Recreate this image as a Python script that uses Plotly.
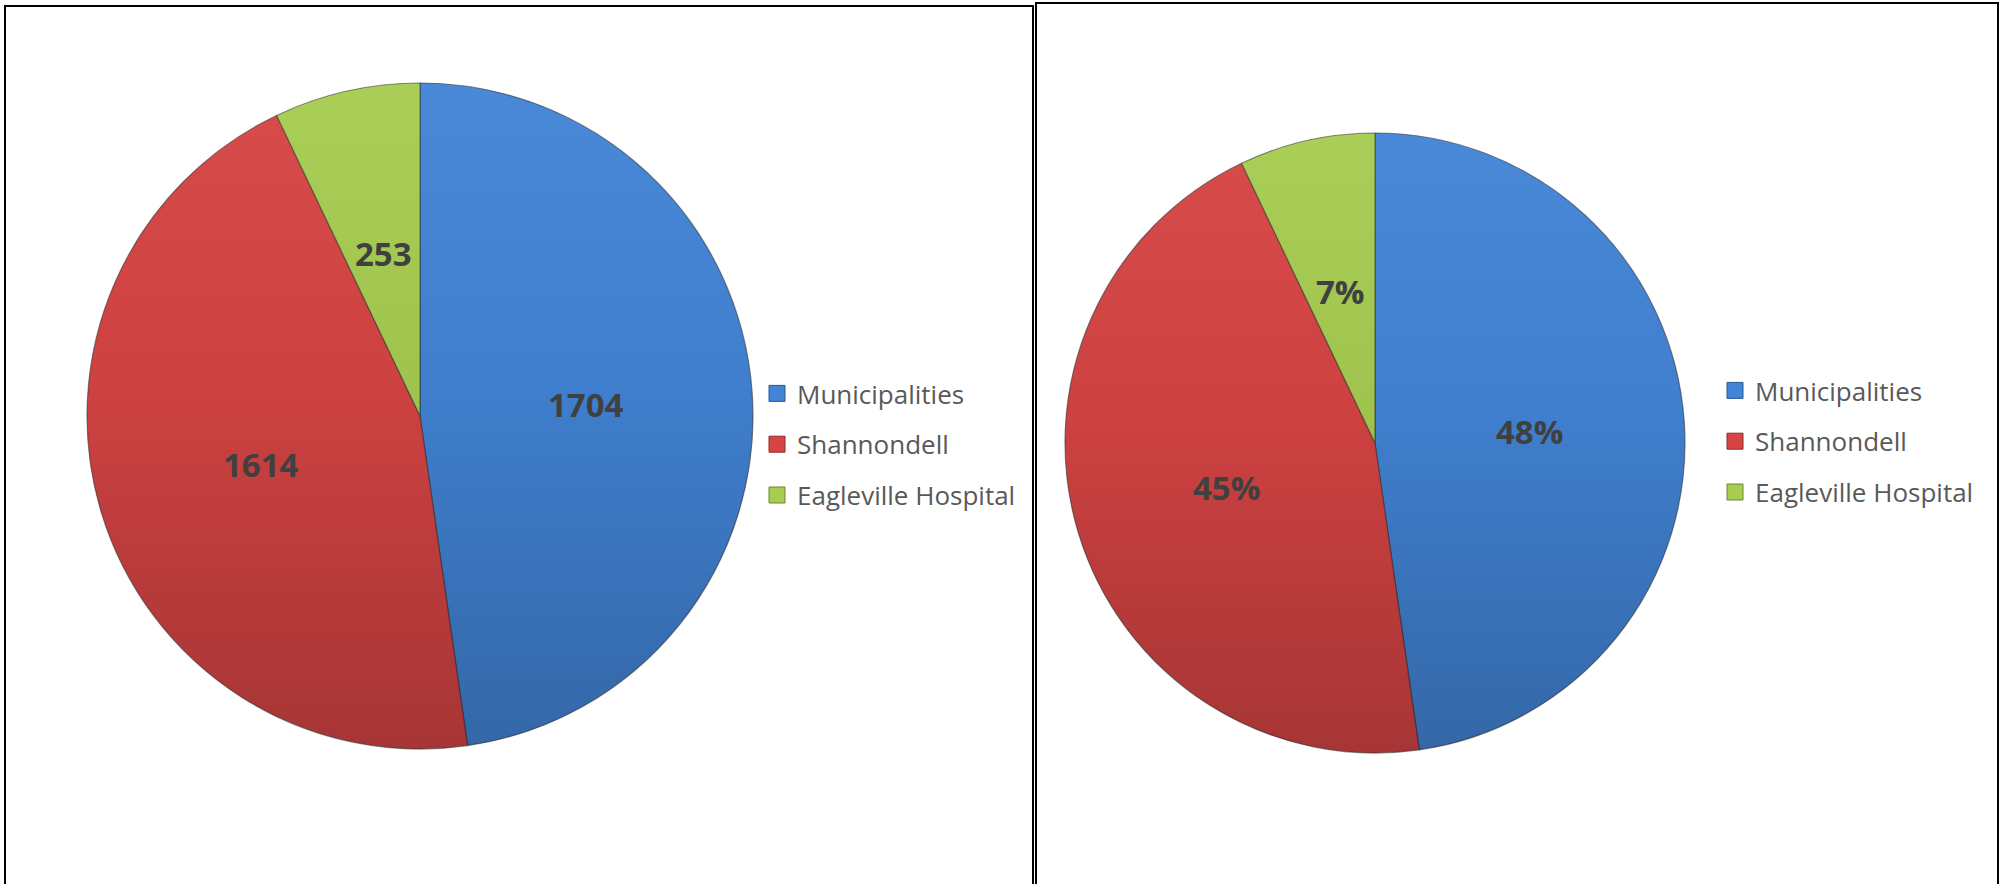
import math
import urllib.parse
import plotly.graph_objects as go

# ---------------- data ----------------
categories = ["Municipalities", "Shannondell", "Eagleville Hospital"]
counts = [1704, 1614, 253]

colors = ["#4284D6", "#D64444", "#A6CC50"]
edge_colors = ["#2A5894", "#8C2A29", "#6B8830"]

W, H = 2005, 884
total = sum(counts)
count_labels = [str(v) for v in counts]
pct_labels = [f"{round(100 * v / total)}%" for v in counts]


def px_x(x):
    return x / W


def px_y(y):
    return 1 - y / H


def px_domain(left, top, size):
    return [px_x(left), px_x(left + size)], [px_y(top + size), px_y(top)]


left_box = (87, 83, 666)
right_box = (1065, 133, 620)
left_dx, left_dy = px_domain(*left_box)
right_dx, right_dy = px_domain(*right_box)

panels = [
    dict(dx=left_dx, dy=left_dy, labels=count_labels, legend="legend", xa="x", ya="y"),
    dict(dx=right_dx, dy=right_dy, labels=pct_labels, legend="legend2", xa="x2", ya="y2"),
]

# soft vertical shading overlay (light top -> darker bottom)
shade_svg = (
    "<svg xmlns='http://www.w3.org/2000/svg' viewBox='0 0 100 100' preserveAspectRatio='none'>"
    "<defs><linearGradient id='g' x1='0' y1='0' x2='0' y2='1'>"
    "<stop offset='0' stop-color='#ffffff' stop-opacity='0.04'/>"
    "<stop offset='0.45' stop-color='#000000' stop-opacity='0.04'/>"
    "<stop offset='1' stop-color='#000000' stop-opacity='0.22'/>"
    "</linearGradient></defs>"
    "<circle cx='50' cy='50' r='50' fill='url(#g)'/></svg>"
)
shade_src = "data:image/svg+xml;charset=utf-8," + urllib.parse.quote(shade_svg)

fig = go.Figure()
annotations = []
images = []
for k, p in enumerate(panels):
    fig.add_trace(go.Pie(
        labels=categories, values=counts, sort=False, direction="clockwise",
        rotation=0,
        marker=dict(colors=colors, line=dict(color="rgba(45,45,45,0.55)", width=1.2)),
        textinfo="none", hoverinfo="label+value+percent", showlegend=False,
        domain=dict(x=p["dx"], y=p["dy"]),
    ))
    # legend entries
    for i, cat in enumerate(categories):
        fig.add_trace(go.Scatter(
            x=[None], y=[None], mode="markers", name=cat,
            marker=dict(symbol="square", size=16, color=colors[i],
                        line=dict(color=edge_colors[i], width=1)),
            legendgroup=f"g{k}_{i}", legend=p["legend"],
            xaxis=p["xa"], yaxis=p["ya"], hoverinfo="skip",
        ))
    # data labels at half radius on slice bisector
    cum = 0
    for i, v in enumerate(counts):
        theta = (cum + v / 2) / total * 2 * math.pi
        cum += v
        annotations.append(dict(
            x=0.5 * math.sin(theta), y=0.5 * math.cos(theta),
            xref=p["xa"], yref=p["ya"], text=p["labels"][i], showarrow=False,
            xanchor="center", yanchor="middle",
            font=dict(family="Open Sans", size=33, color="#404040", weight="bold"),
        ))
    images.append(dict(
        source=shade_src, xref="paper", yref="paper",
        x=p["dx"][0], y=p["dy"][1], sizex=p["dx"][1] - p["dx"][0], sizey=p["dy"][1] - p["dy"][0],
        xanchor="left", yanchor="top", sizing="stretch", layer="above",
    ))

legend_font = dict(family="Open Sans", size=26, color="#595959")

fig.update_layout(
    width=W, height=H, template="none",
    margin=dict(l=0, r=0, t=0, b=0),
    paper_bgcolor="white", plot_bgcolor="rgba(0,0,0,0)",
    showlegend=True,
    xaxis=dict(domain=left_dx, range=[-1, 1], visible=False, fixedrange=True),
    yaxis=dict(domain=left_dy, range=[-1, 1], visible=False, fixedrange=True),
    xaxis2=dict(domain=right_dx, range=[-1, 1], visible=False, fixedrange=True, anchor="y2"),
    yaxis2=dict(domain=right_dy, range=[-1, 1], visible=False, fixedrange=True, anchor="x2"),
    legend=dict(x=px_x(757), xanchor="left", y=px_y(370), yanchor="top",
                font=legend_font, tracegroupgap=14, bgcolor="rgba(0,0,0,0)",
                borderwidth=0, itemclick=False, itemdoubleclick=False),
    legend2=dict(x=px_x(1715), xanchor="left", y=px_y(367), yanchor="top",
                 font=legend_font, tracegroupgap=14, bgcolor="rgba(0,0,0,0)",
                 borderwidth=0, itemclick=False, itemdoubleclick=False),
    annotations=annotations,
    images=images,
    shapes=[
        dict(type="rect", xref="paper", yref="paper", x0=px_x(5), x1=px_x(1033),
             y0=-0.05, y1=px_y(6), line=dict(color="black", width=2), fillcolor="rgba(0,0,0,0)"),
        dict(type="rect", xref="paper", yref="paper", x0=px_x(1036), x1=px_x(1998),
             y0=-0.05, y1=px_y(3), line=dict(color="black", width=2), fillcolor="rgba(0,0,0,0)"),
    ],
)

fig.write_html(
    "out.html",
    config={"displayModeBar": False},
    post_script="document.body.style.margin='0';document.body.style.overflow='hidden';",
)
